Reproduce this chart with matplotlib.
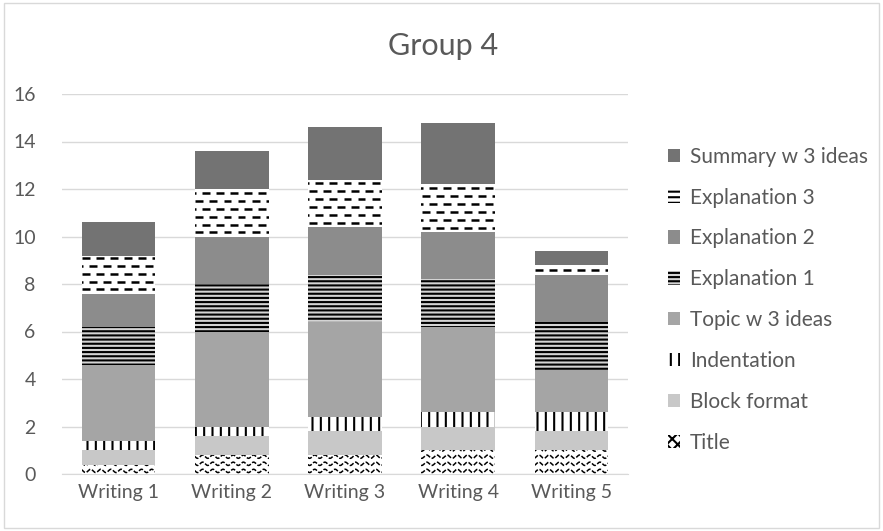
import numpy as np
import matplotlib
matplotlib.use("Agg")
import matplotlib.pyplot as plt
from matplotlib.patches import Patch, Rectangle
from matplotlib.collections import LineCollection

plt.rcParams['font.family'] = ['Lato', 'DejaVu Sans']
plt.rcParams['hatch.linewidth'] = 1.5

writings = ['Writing 1', 'Writing 2', 'Writing 3', 'Writing 4', 'Writing 5']

# average scores per rubric item, stacked bottom to top
title = [0.4, 0.8, 0.8, 1.0, 1.0]
block_format = [0.6, 0.8, 1.0, 1.0, 0.8]
indentation = [0.4, 0.4, 0.6, 0.6, 0.8]
topic = [3.2, 4.0, 4.0, 3.6, 1.8]
explanation1 = [1.6, 2.0, 2.0, 2.0, 2.0]
explanation2 = [1.4, 2.0, 2.0, 2.0, 2.0]
explanation3 = [1.6, 2.0, 2.0, 2.0, 0.4]
summary = [1.4, 1.6, 2.2, 2.6, 0.6]

series = [
    ('Title', title, dict(facecolor='white')),
    ('Block format', block_format, dict(facecolor='#c8c8c8')),
    ('Indentation', indentation, dict(facecolor='white', edgecolor='black', hatch='||')),
    ('Topic w 3 ideas', topic, dict(facecolor='#a5a5a5')),
    ('Explanation 1', explanation1, dict(facecolor='#d4d4d4', edgecolor='black', hatch='----')),
    ('Explanation 2', explanation2, dict(facecolor='#8c8c8c')),
    ('Explanation 3', explanation3, dict(facecolor='white')),
    ('Summary w 3 ideas', summary, dict(facecolor='#737373')),
]

text_col = '#595959'
grid_col = '#d9d9d9'

fig = plt.figure(figsize=(8.83, 5.31), dpi=100)
ax = fig.add_axes([62 / 883, 57 / 531, 566 / 883, 380 / 531])

x = np.arange(len(writings))
width = 0.65
bottom = np.zeros(len(writings))
containers = {}
for name, vals, style in series:
    vals = np.array(vals)
    bars = ax.bar(x, vals, width, bottom=bottom, linewidth=0, label=name, zorder=2, **style)
    containers[name] = (bars, bottom.copy(), vals)
    bottom += vals


def wave_texture(bars, b0, h):
    # small wavy rows clipped to each bar
    for rect, y0, hh in zip(bars, b0, h):
        xs = np.linspace(rect.get_x() - 0.05, rect.get_x() + rect.get_width() + 0.05, 400)
        ys_rows = np.arange(y0 + 0.13, y0 + hh + 0.3, 0.3)
        for k, yr in enumerate(ys_rows):
            ys = yr + 0.07 * np.sin(2 * np.pi * xs / 0.09)
            ln, = ax.plot(xs, ys, color='black', lw=1.1, zorder=3,
                          dashes=(3, 1.2), solid_capstyle='butt')
            ln.set_clip_path(rect)


def dash_texture(bars, b0, h):
    # staggered dash rows clipped to each bar
    for rect, y0, hh in zip(bars, b0, h):
        segs = []
        left = rect.get_x()
        right = left + rect.get_width()
        rows = np.arange(y0 + 0.17, y0 + hh, 0.335)
        for k, yr in enumerate(rows):
            start = left - 0.12 + (0.06 if k % 2 else 0.0)
            while start < right:
                segs.append([(start, yr), (start + 0.07, yr)])
                start += 0.124
        lc = LineCollection(segs, colors='black', linewidths=1.8, zorder=3)
        ax.add_collection(lc)
        lc.set_clip_path(rect)


wave_texture(*containers['Title'])
dash_texture(*containers['Explanation 3'])

ax.set_xlim(-0.5, len(writings) - 0.5)
ax.set_ylim(0, 16)
ax.set_yticks(np.arange(0, 17, 2))
ax.set_xticks(x)
ax.set_xticklabels(writings)
ax.tick_params(length=0, labelsize=14, colors=text_col)
ax.tick_params(axis='y', pad=19)
ax.tick_params(axis='x', pad=7)
ax.grid(axis='y', color=grid_col, lw=1, zorder=0)
for s in ['left', 'right', 'top']:
    ax.spines[s].set_visible(False)
ax.spines['bottom'].set_color(grid_col)
ax.spines['bottom'].set_zorder(1)

fig.text(443 / 883, 1 - 46 / 531, 'Group 4', ha='center', va='center',
         fontsize=22, color=text_col)

# legend, top entry first
handles = []
for name, vals, style in reversed(series):
    st = dict(style)
    if name == 'Title':
        st.update(edgecolor='black', hatch='xxx')
    if name == 'Explanation 3':
        st.update(edgecolor='black', hatch='---')
    handles.append(Patch(linewidth=0, label=name, **st))
leg = fig.legend(handles=handles, loc='upper left', bbox_to_anchor=(649 / 883, 1 - 128 / 531),
                 frameon=False, fontsize=15, labelcolor=text_col,
                 handlelength=0.6, handleheight=0.6, handletextpad=0.45, labelspacing=1.0)

fig.add_artist(Rectangle((0.004, 0.006), 0.992, 0.988, transform=fig.transFigure,
                         fill=False, edgecolor=grid_col, lw=1))

fig.savefig('out.png', dpi=100)
